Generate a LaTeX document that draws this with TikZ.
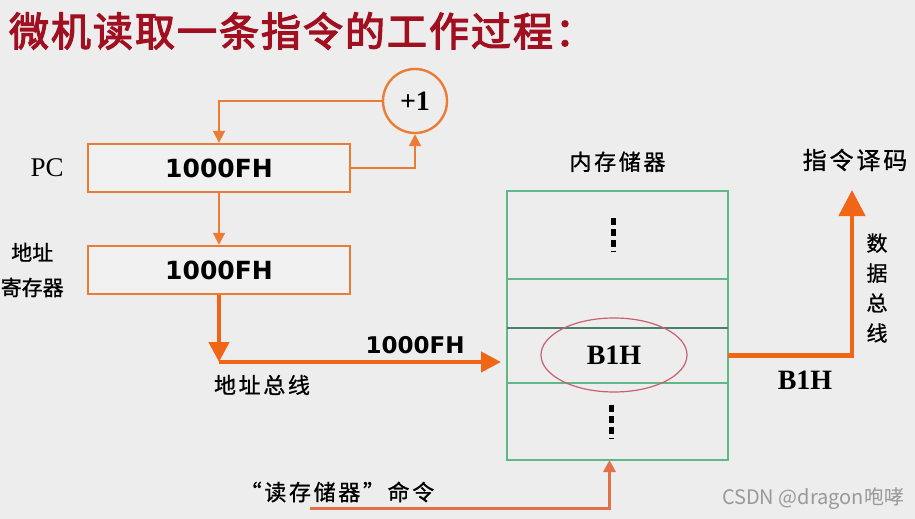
\documentclass[tikz,border=0pt]{standalone}
\usepackage{fontspec}
\setmainfont{Liberation Serif}
\newfontfamily\cjk{Noto Sans CJK SC}
\newfontfamily\cjkplain[FakeBold=1]{Noto Sans CJK SC}
\newfontfamily\cjklabel[FakeBold=1,LetterSpace=12]{Noto Sans CJK SC}
\newfontfamily\cjktitle[FakeBold=3,LetterSpace=5]{Noto Sans CJK SC}
\newfontfamily\hexfont{DejaVu Sans}
\usepackage{tikz}
\usetikzlibrary{arrows.meta,positioning,shapes.geometric}

\definecolor{bgcol}{RGB}{237,237,237}
\definecolor{boxfill}{RGB}{241,241,241}
\definecolor{orng}{RGB}{236,124,52}
\definecolor{busorng}{RGB}{240,102,22}
\definecolor{rdorng}{RGB}{228,112,72}
\definecolor{memgreen}{RGB}{96,184,134}
\definecolor{memdark}{RGB}{72,128,108}
\definecolor{ellred}{RGB}{200,96,112}
\definecolor{titlered}{RGB}{160,16,32}

\begin{document}
\begin{tikzpicture}[
  x=0.5pt, y=-0.5pt,
  >={Triangle[length=6pt,width=6pt]},
  reg/.style={draw=orng, line width=1.2pt, fill=boxfill, minimum width=131pt,
              minimum height=24pt, font=\hexfont\bfseries\fontsize{12.5}{14}\selectfont},
  cell/.style={draw=memgreen, line width=1.2pt, minimum width=110.5pt,
               outer sep=0pt, inner sep=0pt},
  lbl/.style={font=\cjklabel\fontsize{11}{14}\selectfont},
  hex/.style={font=\hexfont\bfseries\fontsize{11.5}{13}\selectfont},
  ser/.style={font=\bfseries\fontsize{14}{16}\selectfont},
  a/.style={->, line width=1pt, draw=orng},
  bus/.style={-{Triangle[length=10pt,width=10pt]}, line width=2.2pt, draw=busorng},
  dots/.style={line width=2.4pt, dash pattern=on 3.5pt off 2pt},
]
\fill[bgcol] (0,0) rectangle (915,519);
\useasboundingbox (0,0) rectangle (915,519);

% title
\node[font=\cjktitle\fontsize{20}{22}\selectfont, text=titlered] (title) at (302,31)
  {微机读取一条指令的工作过程：};

% registers + increment
\node[reg] (pc) at (219,168) {1000FH};
\node[reg] (ar) at (219,270) {1000FH};
\node[circle, draw=orng, line width=1.2pt, minimum size=32pt, inner sep=0pt, ser] (inc)
  at (415,101) {+1};
\node[font=\fontsize{13.5}{15}\selectfont, left=8pt of pc] (pclbl) {PC};
\node[font=\cjkplain\fontsize{10.5}{17.5}\selectfont, align=center, left=8pt of ar] (arlbl)
  {地址\\寄存器};
\draw[a] (inc.west) -| (pc.north);
\draw[a] (pc.east) -| (inc.south);
\draw[a] (pc.south) -- (ar.north);

% memory
\node[cell, minimum height=44pt, anchor=north] (cell1) at (617.5,191) {};
\node[cell, minimum height=24.5pt, below=0pt of cell1] (cell2) {};
\node[cell, minimum height=27.5pt, below=0pt of cell2] (cell3) {};
\node[cell, minimum height=38.5pt, below=0pt of cell3] (cell4) {};
\draw[memdark, line width=1.2pt] (cell3.north west) -- (cell3.north east);
\draw[dots] ([xshift=-2pt,yshift=8.5pt]cell1.center) -- ([xshift=-2pt,yshift=-8.5pt]cell1.center);
\draw[dots] ([xshift=-3pt,yshift=8.5pt]cell4.center) -- ([xshift=-3pt,yshift=-8.5pt]cell4.center);
\node[ellipse, draw=ellred, line width=0.6pt, minimum width=73pt, minimum height=37pt, ser]
  (b1h) at (614,355) {B1H};
\node[lbl, above=6pt of cell1] (memlbl) {内存储器};

% address bus
\coordinate (abus) at (219,362);
\draw[bus] (ar.south) -- (abus);
\draw[bus, shorten >=3pt] (abus) -- (abus -| cell3.west);
\node[hex] (abval) at (415,345) {1000FH};
\node[lbl] (ablbl) at (262,385) {地址总线};

% data bus
\node[font=\cjklabel\fontsize{12}{14}\selectfont] (dec) at (855,160) {指令译码};
\coordinate (dectip) at (852,190);
\draw[bus, -{Triangle[length=13pt,width=13pt]}] (cell3.east) -| (dectip);
\node[font=\cjklabel\fontsize{10.5}{15}\selectfont, align=center] (dblbl) at (877,288)
  {数\\据\\总\\线};
\node[ser] (dval) at (805,380) {B1H};

% read command
\node[lbl] (rdlbl) at (337,492) {“读存储器”命令};
\coordinate (rdstart) at (310,508);
\draw[->, line width=1.5pt, draw=rdorng] (rdstart) -| ([xshift=-4pt]cell4.south);

\node[font=\cjk\fontsize{10}{12}\selectfont, text=black!40] (wm) at (813,499) {CSDN @dragon咆哮};
\end{tikzpicture}
\end{document}
